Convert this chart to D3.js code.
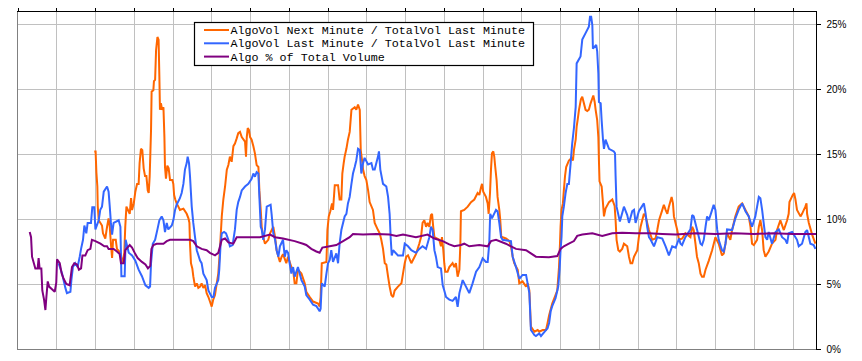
<!DOCTYPE html>
<html><head><meta charset="utf-8">
<script src="https://cdn.jsdelivr.net/npm/d3@7"></script>
<style>html,body{margin:0;padding:0;background:#fff;}svg{display:block;}</style>
</head><body>
<svg id="chart" width="862" height="361"></svg>
<script>
// ---- DATA (minute index, percent) ----
const seriesNames = ["AlgoVol Next Minute / TotalVol Last Minute","AlgoVol Last Minute / TotalVol Last Minute","Algo % of Total Volume"];
const yTickValues = [0,5,10,15,20,25];
const xTickStep = 20; // minutes between vertical grid lines
const xMax = 412;

const algoNext = [[39.6,15.2],[40.3,15.2],[40.7,13.6],[41.2,12.5],[41.4,11.0],[41.9,9.9],[43.6,9.5],[44.1,8.9],[45.3,8.5],[46.2,9.4],[47.0,10.05],[47.6,9.4],[48.2,8.1],[48.8,7.0],[49.3,8.4],[50.7,8.4],[51.3,7.7],[53.1,7.4],[53.9,6.7],[54.4,6.8],[55.1,7.4],[55.6,9.4],[56.2,10.95],[57.9,10.4],[58.6,11.6],[59.1,10.7],[60.0,11.2],[60.8,12.1],[61.7,12.7],[62.5,12.7],[63.0,14.3],[63.7,15.4],[64.4,15.3],[65.1,13.9],[65.8,13.3],[66.5,13.3],[67.2,12.2],[67.7,12.0],[68.2,13.3],[68.5,14.8],[68.9,16.85],[69.2,19.8],[70.1,19.9],[70.4,20.6],[71.0,20.7],[71.5,23.0],[72.2,24.0],[72.8,23.8],[73.2,20.95],[73.5,18.4],[74.0,18.9],[74.6,18.4],[75.3,18.6],[75.8,16.3],[76.1,14.0],[76.6,13.1],[77.3,14.1],[78.0,13.9],[78.7,13.0],[79.9,13.0],[80.4,12.7],[80.8,11.85],[81.4,11.5],[82.1,11.2],[83.0,10.95],[83.8,10.7],[85.6,10.8],[87.3,10.4],[88.2,10.05],[88.7,9.7],[89.0,8.1],[89.5,6.6],[90.2,6.2],[90.7,5.6],[91.6,4.8],[92.5,5.05],[93.3,4.7],[94.2,4.8],[95.0,5.05],[95.9,4.7],[96.8,4.9],[97.6,4.3],[98.5,4.0],[99.3,3.65],[100.2,3.26],[101.0,3.8],[101.9,4.15],[102.8,5.05],[103.6,5.8],[104.2,7.1],[104.8,8.6],[105.4,10.2],[106.2,11.5],[107.1,12.5],[108.0,13.8],[108.8,14.15],[109.6,14.8],[110.5,14.4],[111.4,15.6],[112.2,15.8],[113.1,16.2],[113.9,16.6],[114.8,16.7],[115.7,16.3],[117.4,15.95],[117.9,14.8],[118.3,16.3],[118.8,17.0],[119.4,16.85],[120.0,16.3],[120.8,16.1],[121.7,15.6],[122.5,15.05],[123.4,14.15],[124.3,14.0],[124.8,12.2],[125.5,10.7],[126.0,9.4],[126.8,8.6],[127.7,8.1],[129.4,8.4],[130.3,8.9],[132.0,9.4],[132.9,8.6],[133.7,7.6],[134.6,7.1],[135.4,6.7],[136.3,7.1],[137.0,7.3],[138.7,6.6],[139.6,7.1],[141.3,6.3],[142.2,6.1],[143.0,5.05],[143.9,5.05],[144.7,6.1],[146.5,5.8],[148.2,5.05],[149.0,4.4],[150.8,4.0],[152.5,3.65],[155.1,3.5],[155.9,3.26],[156.4,4.0],[157.0,6.6],[159.4,6.7],[159.9,9.15],[160.6,10.2],[161.4,10.6],[162.3,11.2],[162.8,10.7],[163.7,12.6],[165.4,12.6],[166.2,11.5],[167.1,11.5],[167.6,13.5],[168.3,14.3],[168.8,14.8],[169.7,15.4],[170.5,16.1],[171.4,16.7],[172.3,18.4],[174.0,18.6],[174.8,18.4],[175.7,18.8],[176.6,18.4],[177.1,15.3],[177.8,14.5],[178.3,13.8],[179.1,13.3],[180.0,13.0],[180.9,12.2],[181.7,11.3],[183.4,10.7],[184.3,9.7],[186.0,9.15],[186.9,8.9],[187.7,8.4],[188.6,7.7],[189.5,6.6],[190.3,6.5],[191.2,5.56],[192.0,4.8],[192.9,4.15],[193.8,4.0],[194.6,4.5],[196.3,4.8],[198.1,5.05],[198.9,5.8],[199.8,6.6],[200.6,7.1],[201.5,7.2],[203.2,6.6],[204.9,7.1],[205.6,7.3],[207.3,8.1],[208.2,8.6],[209.0,9.7],[209.9,9.9],[210.8,9.4],[211.6,9.7],[212.5,9.4],[213.3,10.3],[213.9,10.4],[214.5,9.4],[215.1,8.6],[217.6,8.4],[218.5,7.9],[219.0,8.6],[219.7,7.6],[220.2,6.6],[220.7,5.95],[221.9,5.95],[222.8,6.3],[224.5,6.6],[225.4,6.3],[226.2,6.6],[227.1,5.56],[228.0,6.1],[228.5,8.1],[228.8,10.6],[230.5,10.7],[232.3,10.95],[234.0,11.3],[235.7,11.5],[237.4,12.0],[238.3,11.85],[239.1,12.4],[239.7,12.7],[240.3,12.1],[241.7,11.7],[242.6,11.2],[243.1,10.4],[243.8,12.0],[244.3,13.8],[244.8,15.05],[245.5,15.2],[246.0,14.8],[246.5,14.0],[247.2,13.0],[247.7,11.7],[248.6,10.7],[249.1,9.9],[249.6,8.64],[252.0,8.5],[253.8,8.3],[254.6,7.9],[255.5,7.1],[256.3,6.6],[258.1,6.1],[258.9,5.05],[260.6,5.2],[262.4,4.8],[263.2,5.05],[264.1,4.5],[264.9,1.72],[266.7,1.33],[268.4,1.46],[269.2,1.33],[271.0,1.46],[272.7,1.46],[273.5,2.0],[274.3,2.6],[275.9,3.5],[277.6,4.15],[278.5,4.5],[279.4,6.3],[279.9,8.1],[280.2,9.4],[280.7,10.7],[281.4,11.2],[281.9,12.2],[282.5,13.3],[283.1,14.0],[284.5,14.5],[285.9,14.7],[286.6,14.5],[287.1,15.3],[288.0,16.1],[288.5,17.1],[289.0,17.6],[289.7,18.4],[290.7,19.2],[291.4,19.4],[293.1,18.4],[294.0,18.3],[294.8,18.4],[295.7,18.9],[297.1,19.5],[297.8,19.0],[298.3,18.4],[299.1,17.6],[299.7,16.3],[300.0,14.5],[300.3,12.9],[301.4,12.5],[302.1,11.2],[302.6,10.2],[303.4,10.8],[305.2,11.3],[306.9,11.5],[308.1,11.0],[308.6,9.9],[309.1,8.4],[310.0,7.6],[310.8,7.5],[312.0,7.7],[312.9,8.1],[314.6,7.9],[315.5,7.1],[316.3,6.6],[317.2,6.6],[318.1,7.1],[319.8,7.6],[320.6,8.6],[321.5,9.4],[323.2,10.4],[324.1,10.2],[325.8,9.15],[327.5,8.4],[329.2,8.5],[330.1,9.15],[331.0,9.9],[332.7,10.7],[333.5,11.1],[334.4,10.7],[335.3,10.4],[336.1,10.95],[337.5,11.7],[338.2,11.2],[338.7,10.2],[340.4,9.15],[341.3,8.4],[343.0,8.5],[344.6,8.9],[347.2,8.6],[348.1,9.4],[348.9,9.15],[349.8,8.1],[350.6,7.1],[351.5,6.6],[352.4,5.8],[353.2,5.56],[354.1,5.56],[355.0,6.1],[356.7,6.8],[358.4,7.6],[360.1,8.6],[361.8,8.1],[363.5,7.2],[364.4,7.35],[365.3,8.1],[366.1,8.9],[367.8,8.4],[368.7,9.15],[370.4,10.2],[372.1,10.95],[373.9,11.2],[375.6,10.7],[377.3,10.2],[378.2,9.4],[379.0,8.1],[379.9,8.0],[381.6,8.4],[382.5,9.4],[383.3,9.9],[384.2,9.15],[385.0,7.6],[385.9,7.1],[387.6,7.5],[389.3,8.1],[391.1,8.4],[391.9,9.15],[393.6,9.9],[395.4,9.15],[397.1,9.9],[397.9,10.4],[398.3,11.3],[400.0,11.85],[400.7,12.0],[401.4,11.5],[402.2,10.7],[404.0,10.2],[404.8,10.4],[406.5,10.95],[407.1,11.2],[407.4,10.4],[408.3,9.7],[410.0,8.8],[411.7,8.1]];

const algoLast = [[21.2,6.6],[23.0,5.8],[24.7,4.7],[25.5,4.3],[27.3,4.4],[27.8,5.3],[28.6,6.3],[29.8,6.6],[31.0,6.3],[32.1,7.1],[32.8,7.7],[33.8,8.4],[34.5,9.5],[35.5,8.9],[36.2,9.7],[37.9,9.7],[38.6,10.9],[39.6,10.9],[40.2,9.2],[41.9,9.9],[42.7,10.7],[43.6,10.95],[44.5,12.1],[46.2,12.5],[47.0,12.1],[47.6,10.95],[48.2,9.7],[48.8,8.8],[49.6,9.7],[52.2,9.9],[53.1,9.4],[53.6,5.6],[55.3,5.6],[55.8,8.4],[57.4,7.4],[59.1,7.2],[60.8,6.8],[62.5,6.1],[64.2,5.6],[66.0,4.9],[67.7,4.7],[68.4,4.8],[68.9,6.6],[69.8,8.1],[71.0,8.4],[72.2,9.2],[73.2,9.9],[74.4,10.2],[75.3,9.9],[76.1,9.0],[77.0,9.7],[77.8,9.2],[79.6,9.5],[80.4,9.9],[81.3,10.7],[82.1,11.1],[83.8,11.6],[84.7,12.0],[85.6,12.7],[86.4,13.8],[87.3,14.3],[87.8,14.8],[88.5,14.3],[89.0,13.3],[89.9,10.95],[90.7,9.7],[91.6,8.6],[92.5,7.6],[94.2,6.8],[95.0,6.6],[95.9,5.8],[97.6,5.3],[98.5,4.5],[100.2,4.0],[101.1,4.0],[101.9,4.7],[103.6,5.3],[104.1,6.1],[104.8,8.1],[105.4,8.9],[106.6,9.0],[107.6,8.9],[108.8,8.4],[109.6,7.9],[111.0,8.0],[112.2,9.2],[113.1,10.7],[113.9,11.3],[114.8,11.7],[115.7,12.2],[117.4,12.5],[119.1,12.7],[120.8,13.1],[121.7,13.5],[122.5,13.25],[123.4,13.6],[124.3,13.5],[124.8,11.7],[125.5,9.4],[126.0,9.2],[126.8,8.4],[127.7,9.2],[128.6,10.95],[130.6,11.1],[131.1,10.4],[132.0,8.9],[132.9,8.4],[133.7,7.6],[134.6,7.1],[135.4,7.9],[137.0,8.4],[137.9,7.1],[138.7,7.6],[139.6,7.4],[140.4,6.6],[141.3,5.8],[142.2,6.3],[143.0,5.56],[144.7,6.3],[146.5,5.3],[148.2,4.8],[149.0,4.15],[150.8,3.8],[152.5,3.4],[154.2,3.3],[155.1,3.1],[155.9,2.9],[156.4,3.1],[157.0,5.05],[158.5,4.8],[159.4,5.8],[160.2,6.6],[161.1,6.85],[161.9,7.6],[162.8,6.7],[164.5,7.35],[165.4,6.6],[166.2,8.1],[167.1,9.15],[168.8,10.2],[169.7,10.4],[170.5,11.2],[171.4,11.7],[172.3,12.7],[173.1,13.5],[174.0,14.0],[174.8,14.5],[175.7,15.4],[176.6,15.3],[177.4,13.5],[178.3,14.3],[179.1,14.7],[180.9,14.2],[182.6,14.3],[183.4,13.8],[184.3,13.8],[186.0,14.8],[186.5,15.2],[187.2,13.8],[188.6,12.7],[190.3,12.5],[191.2,11.7],[192.0,10.4],[192.6,8.4],[193.1,7.2],[193.8,7.6],[196.3,7.2],[198.9,7.2],[199.8,8.1],[201.5,7.9],[203.2,7.6],[205.6,7.4],[207.3,7.7],[209.0,7.9],[210.8,7.7],[212.5,8.6],[213.3,9.4],[214.2,9.15],[215.1,7.6],[215.9,7.1],[216.8,6.3],[218.5,6.2],[219.4,4.9],[220.2,4.5],[221.1,4.0],[222.8,3.8],[224.5,3.7],[226.2,4.0],[227.1,3.25],[228.0,4.3],[229.7,5.3],[231.4,4.8],[233.1,4.3],[234.8,5.05],[236.6,5.95],[238.3,6.3],[240.0,6.97],[241.7,6.7],[242.6,6.7],[243.4,8.1],[243.9,10.4],[244.8,10.05],[246.9,10.7],[247.7,10.6],[248.6,9.7],[249.5,8.6],[250.3,8.4],[254.6,8.3],[255.5,7.1],[257.2,6.3],[258.9,5.4],[260.6,5.7],[262.4,5.7],[263.2,5.05],[264.1,4.3],[264.9,1.46],[266.7,1.08],[267.5,1.0],[269.2,1.2],[270.1,1.0],[271.8,1.3],[273.5,1.6],[274.3,2.0],[275.1,2.9],[275.9,3.3],[277.6,3.9],[279.0,4.8],[279.7,6.1],[280.2,7.6],[280.7,8.6],[281.1,10.2],[281.9,10.95],[282.8,12.0],[283.7,12.7],[284.5,12.7],[285.4,14.3],[286.2,15.8],[287.1,17.0],[288.0,18.6],[288.5,21.97],[290.5,22.5],[291.4,23.8],[293.1,24.3],[294.8,24.8],[295.4,25.56],[296.0,25.56],[296.6,24.9],[296.9,23.1],[298.6,23.4],[299.1,22.9],[299.7,21.2],[300.0,19.0],[300.9,18.9],[301.4,17.6],[302.1,16.1],[302.6,15.4],[303.4,16.1],[305.2,15.4],[307.7,15.2],[308.3,15.05],[308.6,13.3],[309.1,10.95],[310.8,9.8],[312.9,10.95],[314.6,10.3],[315.5,9.7],[317.2,10.6],[318.1,10.7],[318.9,9.7],[320.6,10.6],[323.2,11.2],[324.1,10.4],[324.9,9.4],[325.8,8.6],[326.7,8.4],[328.4,7.9],[330.1,8.6],[332.7,8.5],[334.4,7.9],[336.1,7.2],[337.8,7.9],[339.6,7.8],[341.3,8.5],[342.1,8.1],[342.9,8.0],[344.6,8.6],[347.2,9.2],[348.1,10.3],[348.9,10.2],[350.6,9.2],[352.4,8.1],[353.2,8.0],[354.1,8.4],[355.0,9.4],[355.8,10.2],[356.7,9.9],[358.4,10.7],[359.2,11.1],[360.1,10.7],[361.0,9.2],[361.8,8.4],[363.5,7.6],[364.4,7.5],[365.3,8.1],[366.1,9.2],[368.7,9.15],[370.4,10.05],[372.1,10.7],[373.9,11.2],[375.6,10.6],[377.3,10.2],[379.0,9.4],[380.7,10.2],[382.5,11.7],[383.3,11.6],[384.2,10.7],[385.0,9.7],[385.9,8.6],[386.8,8.4],[387.6,9.0],[389.3,8.1],[391.1,9.0],[392.8,9.2],[394.5,8.6],[396.2,8.4],[397.1,8.1],[397.9,8.9],[399.7,9.0],[402.2,8.4],[403.1,7.9],[404.8,8.1],[406.5,9.0],[407.4,9.15],[409.1,8.1],[410.8,8.0],[411.7,7.7]];

const algoPct = [[6.3,9.0],[7.0,8.6],[7.5,7.1],[9.2,6.2],[10.4,6.2],[10.9,7.0],[11.4,6.2],[12.3,6.2],[12.8,4.5],[13.7,3.8],[14.4,3.0],[14.9,4.0],[15.6,5.2],[16.3,4.8],[17.8,4.6],[19.2,4.4],[20.0,5.1],[20.4,6.9],[21.8,6.6],[22.8,5.8],[23.8,5.4],[25.2,5.0],[26.9,4.9],[28.1,6.3],[29.3,6.6],[30.7,6.5],[31.7,6.1],[32.8,6.2],[33.5,7.2],[35.0,7.2],[36.2,7.6],[37.6,7.7],[38.4,8.4],[40.2,8.3],[42.8,8.1],[44.8,7.9],[46.2,7.9],[47.0,7.7],[49.6,7.7],[51.3,7.5],[52.7,7.3],[53.4,6.6],[54.8,6.6],[55.6,7.6],[57.9,8.0],[59.1,7.8],[60.8,7.3],[62.0,7.0],[64.2,6.7],[66.0,6.5],[67.3,6.2],[68.5,6.4],[69.1,7.7],[70.1,8.0],[71.8,8.1],[75.3,8.1],[77.0,8.3],[78.7,8.4],[83.9,8.4],[89.0,8.4],[90.7,8.3],[92.5,7.9],[95.0,7.7],[97.6,7.6],[99.3,7.4],[101.9,7.2],[103.6,7.4],[105.4,8.4],[107.1,8.5],[108.8,8.2],[111.4,8.1],[113.1,8.6],[117.4,8.6],[120.0,8.6],[125.1,8.6],[130.3,8.8],[132.9,8.6],[137.0,8.5],[143.0,8.3],[147.3,8.1],[149.0,8.0],[151.6,7.7],[154.2,7.5],[155.9,7.4],[157.3,7.8],[161.1,7.9],[164.5,8.0],[168.0,8.3],[171.4,8.6],[173.1,8.85],[178.3,8.8],[185.2,8.85],[192.0,8.8],[195.5,8.7],[198.9,8.8],[205.6,8.6],[211.6,8.8],[215.1,8.5],[219.4,8.3],[222.8,8.05],[225.4,7.9],[228.8,8.0],[230.5,8.1],[233.1,7.9],[238.3,8.0],[242.6,7.9],[244.3,8.3],[246.9,8.4],[252.0,8.1],[257.2,7.7],[262.4,7.6],[264.9,7.35],[267.5,7.1],[274.2,7.05],[278.5,7.15],[280.2,7.7],[281.9,7.9],[284.5,8.1],[287.1,8.3],[288.8,8.7],[291.4,8.8],[296.6,8.9],[301.7,8.7],[306.9,8.9],[312.0,8.95],[318.9,8.9],[325.8,8.9],[332.7,8.85],[339.6,8.8],[343.5,8.85],[350,8.9],[360,8.85],[370,8.9],[380,8.85],[390,8.9],[400,8.85],[412,8.85]];

const seriesColors = ["#ff6600","#3366ff","#800080"];
const seriesData = [algoNext, algoLast, algoPct];

// ---- CHART ----
(function(){
const svg = d3.select("#chart");
const pLeft = 17.5, pRight = 816, pTop = 11, pBottom = 349;
const x = d3.scaleLinear().domain([0, xMax]).range([pLeft, pRight]);
const y = d3.scaleLinear().domain([0, 26]).range([pBottom, pTop]);

svg.append("rect").attr("width",862).attr("height",361).attr("fill","#fff");

const xTicks = d3.range(0, xMax, xTickStep);
// grid
const grid = svg.append("g").attr("shape-rendering","crispEdges").attr("stroke","#c0c0c0").attr("stroke-width",1);
grid.selectAll(".vx").data(xTicks.filter(d=>d>0)).join("line")
  .attr("x1",d=>Math.round(x(d))+0.5).attr("x2",d=>Math.round(x(d))+0.5).attr("y1",pTop).attr("y2",pBottom);
grid.selectAll(".hy").data(yTickValues.filter(d=>d>0)).join("line")
  .attr("x1",pLeft).attr("x2",pRight).attr("y1",d=>Math.round(y(d))+0.5).attr("y2",d=>Math.round(y(d))+0.5);

// frame: left and bottom gray
svg.append("line").attr("x1",17.5).attr("x2",17.5).attr("y1",pTop).attr("y2",pBottom+0.5).attr("stroke","#808080").attr("stroke-width",1);
svg.append("line").attr("x1",17).attr("x2",pRight).attr("y1",pBottom+0.5).attr("y2",pBottom+0.5).attr("stroke","#808080").attr("stroke-width",1);

// top axis (ticks, no labels)
const topAxis = d3.axisTop(x).tickValues(xTicks).tickSize(3).tickFormat("").tickSizeOuter(0);
const gTop = svg.append("g").attr("transform",`translate(0,${pTop})`).call(topAxis);
gTop.select(".domain").remove();
gTop.selectAll(".tick line").attr("stroke","#000").attr("shape-rendering","crispEdges");
svg.append("line").attr("x1",17).attr("x2",pRight+1).attr("y1",pTop+0.5).attr("y2",pTop+0.5).attr("stroke","#000").attr("shape-rendering","crispEdges");

// lines
const line = d3.line().x(d=>x(d[0])).y(d=>y(d[1]));
seriesData.forEach((s,i)=>{
  svg.append("path").datum(s).attr("d",line).attr("fill","none")
    .attr("stroke",seriesColors[i]).attr("stroke-width",2).attr("stroke-linejoin","miter").attr("stroke-miterlimit",2);
});

// right axis
const rightAxis = d3.axisRight(y).tickValues(yTickValues).tickSize(4).tickPadding(6).tickFormat(d=>d+"%").tickSizeOuter(0);
const gR = svg.append("g").attr("transform",`translate(${pRight+0.5},0)`).call(rightAxis);
gR.select(".domain").attr("stroke","#000").attr("d",`M0,${pTop}V${pBottom+1}`);
gR.selectAll(".tick line").attr("stroke","#000").attr("shape-rendering","crispEdges");
gR.selectAll(".tick text").attr("font-family","'Liberation Sans', Arial, sans-serif").attr("font-size","10px").attr("fill","#000");

// legend
const lg = svg.append("g");
lg.append("rect").attr("x",194.5).attr("y",22.5).attr("width",339).attr("height",43).attr("fill","#fff").attr("stroke","#000").attr("stroke-width",1.2);
seriesNames.forEach((n,i)=>{
  const yy = 30 + i*13.3;
  lg.append("line").attr("x1",204).attr("x2",229).attr("y1",yy).attr("y2",yy).attr("stroke",seriesColors[i]).attr("stroke-width",2);
  lg.append("text").attr("x",230.5).attr("y",yy+4).attr("font-family","'Liberation Mono','Courier New',monospace").attr("font-size","11.7px").attr("fill","#000").text(n);
});
})();
</script>
</body></html>
